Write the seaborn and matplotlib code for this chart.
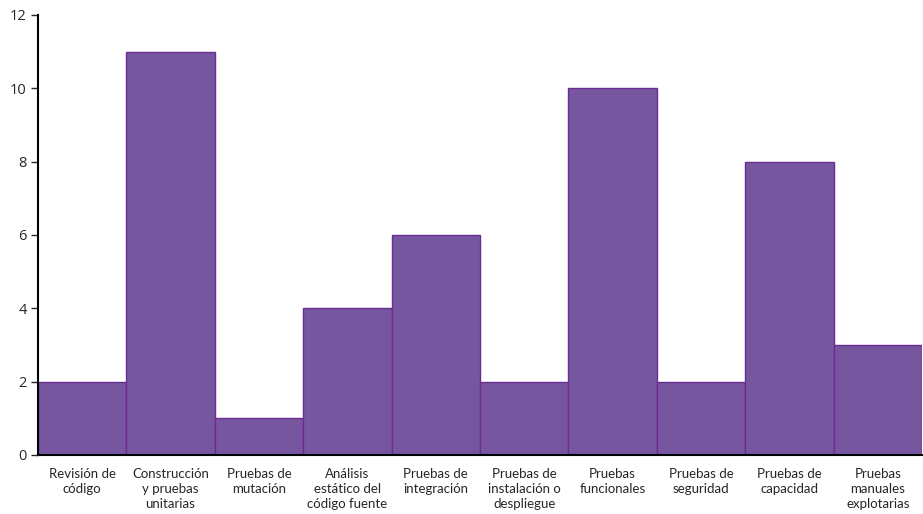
import matplotlib
matplotlib.use("Agg")
import matplotlib.pyplot as plt
import seaborn as sns
import pandas as pd

categories = [
    "Revisión de\ncódigo",
    "Construcción\ny pruebas\nunitarias",
    "Pruebas de\nmutación",
    "Análisis\nestático del\ncódigo fuente",
    "Pruebas de\nintegración",
    "Pruebas de\ninstalación o\ndespliegue",
    "Pruebas\nfuncionales",
    "Pruebas de\nseguridad",
    "Pruebas de\ncapacidad",
    "Pruebas\nmanuales\nexplotarias",
]
values = [2, 11, 1, 4, 6, 2, 10, 2, 8, 3]

sns.set_style("white")
plt.rcParams["font.family"] = ["Lato", "DejaVu Sans"]

df = pd.DataFrame({"cat": categories, "val": values})

fig = plt.figure(figsize=(9.23, 5.14), dpi=100)
ax = fig.add_axes([0.041, 0.115, 0.958, 0.856])
sns.barplot(data=df, x="cat", y="val", ax=ax, width=1.0,
            color="#7756a0", saturation=1, edgecolor="#6a2c91", linewidth=1)

ax.set_xlim(-0.5, len(categories) - 0.5)
ax.set_ylim(0, 12)
ax.set_yticks(range(0, 13, 2))
ax.set_xlabel("")
ax.set_ylabel("")
for s in ["top", "right"]:
    ax.spines[s].set_visible(False)
ax.spines["left"].set_color("black")
ax.spines["bottom"].set_color("black")
ax.spines["left"].set_linewidth(1.5)
ax.spines["bottom"].set_linewidth(1.5)
ax.tick_params(axis="y", left=True, length=5, width=1, labelsize=10.5, pad=3)
ax.tick_params(axis="x", bottom=False, labelsize=9.5, pad=6)
for lbl in ax.get_yticklabels():
    lbl.set_fontfamily(["Open Sans", "DejaVu Sans"])
for lbl in ax.get_xticklabels():
    lbl.set_linespacing(1.3)

fig.savefig("out.png", dpi=100)
